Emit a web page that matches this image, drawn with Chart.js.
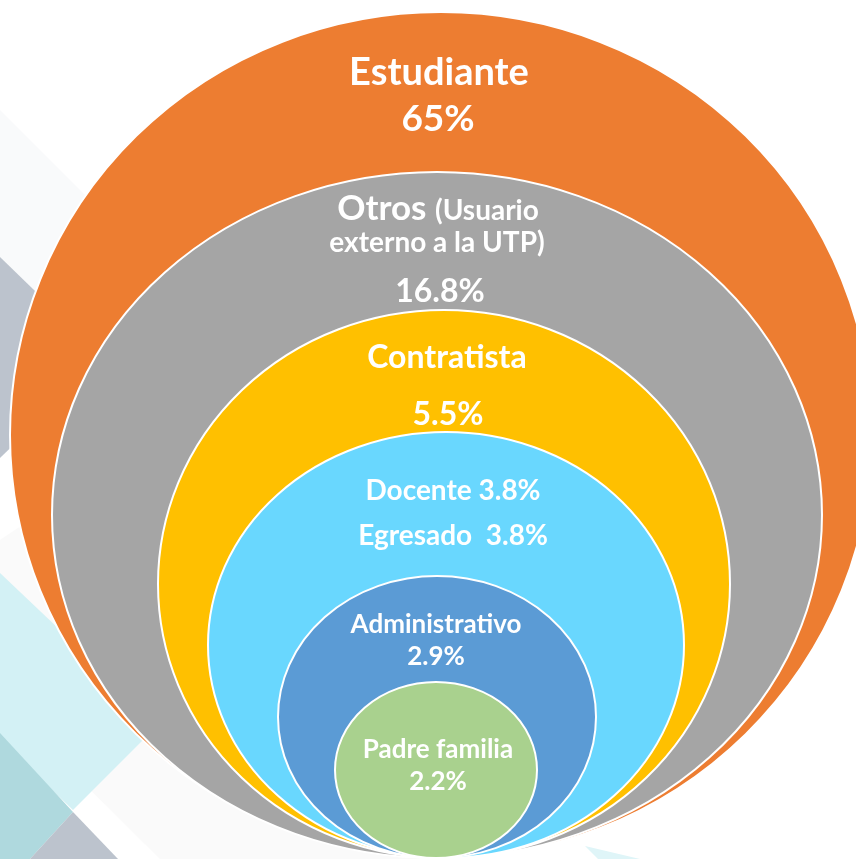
<!DOCTYPE html>
<html>
<head>
<meta charset="utf-8">
<script src="https://cdn.jsdelivr.net/npm/chart.js@4.4.1/dist/chart.umd.min.js"></script>
<style>
  html, body { margin: 0; padding: 0; background: #fff; overflow: hidden; }
</style>
</head>
<body>
<canvas id="chart" width="856" height="859"></canvas>
<script>
// data
const categories = ['Estudiante', 'Otros', 'Contratista', 'Docente', 'Egresado', 'Administrativo', 'Padre familia'];
const shares = [65, 16.8, 5.5, 3.8, 3.8, 2.9, 2.2];
const otrosNote = ['(Usuario', 'externo a la UTP)'];

// one ring per level, Docente and Egresado share the 4th one
const ringColors = ['#ED7D31', '#A5A5A5', '#FFC000', '#69D7FE', '#5B9BD5', '#A9D18E'];
const ringCenterX = [441, 437, 444, 446, 437, 436];
const ringRadiusX = [431, 385, 286, 238, 159, 101];
const ringRadiusY = [423, 343, 274, 213, 141, 88];

const pct = i => shares[i] + '%';

// text lines: ring, dx from ring centre, baseline below ring top, pieces [text, px size]
const labelLines = [
  { ring: 0, dx: -2, dy: 73,  parts: [[categories[0], 38]] },
  { ring: 0, dx: -3, dy: 119, parts: [[pct(0), 37]] },
  { ring: 1, dx: 1,  dy: 48,  parts: [[categories[1] + ' ', 35], [otrosNote[0], 28]] },
  { ring: 1, dx: 0,  dy: 80,  parts: [[otrosNote[1], 28]] },
  { ring: 1, dx: 3,  dy: 130, parts: [[pct(1), 32]] },
  { ring: 2, dx: 3,  dy: 58,  parts: [[categories[2], 32]] },
  { ring: 2, dx: 4,  dy: 115, parts: [[pct(2), 32]] },
  { ring: 3, dx: 7,  dy: 68,  parts: [[categories[3] + ' ' + pct(3), 28]] },
  { ring: 3, dx: 7,  dy: 113, parts: [[categories[4] + '  ' + pct(4), 28]] },
  { ring: 4, dx: -1, dy: 57,  parts: [[categories[5], 26]] },
  { ring: 4, dx: -1, dy: 89,  parts: [[pct(5), 26]] },
  { ring: 5, dx: 2,  dy: 76,  parts: [[categories[6], 26]] },
  { ring: 5, dx: 2,  dy: 108, parts: [[pct(6), 26]] }
];

const FONT = 'Lato, "Open Sans", sans-serif';

const backdrop = {
  id: 'backdrop',
  beforeDraw(chart) {
    const ctx = chart.ctx;
    ctx.save();
    ctx.fillStyle = '#ffffff';
    ctx.fillRect(0, 0, chart.width, chart.height);
    const poly = (color, pts) => {
      ctx.fillStyle = color;
      ctx.beginPath();
      pts.forEach((p, i) => i ? ctx.lineTo(p[0], p[1]) : ctx.moveTo(p[0], p[1]));
      ctx.closePath();
      ctx.fill();
    };
    poly('#f9fafb', [[0, 110], [130, 240], [0, 370]]);
    poly('#fafafa', [[0, 700], [160, 859], [420, 859], [60, 500], [0, 540]]);
    poly('#bcc3cd', [[0, 257], [70, 325], [70, 390], [0, 458]]);
    poly('#d3f1f5', [[0, 573], [159, 724], [73, 810], [0, 740]]);
    poly('#afd9de', [[0, 733], [73, 812], [30, 859], [0, 859]]);
    poly('#bcc3cd', [[73, 812], [118, 859], [30, 859]]);
    poly('#dff5f8', [[585, 846], [640, 859], [598, 859]]);
    ctx.restore();
  }
};

const ellipses = {
  id: 'ellipses',
  beforeDatasetsDraw(chart) {
    const { ctx, scales: { x, y } } = chart;
    chart.data.datasets.forEach(ds => {
      const p = ds.data[0];
      const cx = x.getPixelForValue(p.x);
      const cy = y.getPixelForValue(p.y);
      const rx = Math.abs(x.getPixelForValue(p.x + p.rx) - cx);
      const ry = Math.abs(y.getPixelForValue(p.y + p.ry) - cy);
      ctx.save();
      ctx.beginPath();
      ctx.ellipse(cx, cy, rx, ry, 0, 0, Math.PI * 2);
      ctx.fillStyle = ds.backgroundColor;
      ctx.fill();
      ctx.lineWidth = 2;
      ctx.strokeStyle = '#ffffff';
      ctx.stroke();
      ctx.restore();
    });
  },
  afterDatasetsDraw(chart) {
    const { ctx, scales: { x, y } } = chart;
    ctx.save();
    ctx.fillStyle = '#ffffff';
    ctx.textBaseline = 'alphabetic';
    ctx.textAlign = 'left';
    labelLines.forEach(line => {
      const p = chart.data.datasets[line.ring].data[0];
      const cx = x.getPixelForValue(p.x) + line.dx;
      const top = y.getPixelForValue(p.y + p.ry);
      const widths = line.parts.map(([t, s]) => {
        ctx.font = 'bold ' + s + 'px ' + FONT;
        return ctx.measureText(t).width;
      });
      let left = cx - widths.reduce((a, b) => a + b, 0) / 2;
      line.parts.forEach(([t, s], i) => {
        ctx.font = 'bold ' + s + 'px ' + FONT;
        ctx.fillText(t, left, top + line.dy);
        left += widths[i];
      });
    });
    ctx.restore();
  }
};

const draw = () => {
  new Chart(document.getElementById('chart'), {
    type: 'scatter',
    data: {
      datasets: ringColors.map((color, i) => ({
        label: 'ring' + i,
        data: [{ x: ringCenterX[i], y: ringRadiusY[i], rx: ringRadiusX[i], ry: ringRadiusY[i] }],
        backgroundColor: color,
        pointRadius: 0
      }))
    },
    options: {
      responsive: false,
      animation: false,
      layout: { padding: 0 },
      plugins: { legend: { display: false }, tooltip: { enabled: false } },
      scales: {
        x: { type: 'linear', min: 0, max: 856, display: false },
        y: { type: 'linear', min: -1, max: 858, display: false }
      }
    },
    plugins: [backdrop, ellipses]
  });
};

document.fonts.load('bold 30px Lato').then(draw, draw);
</script>
</body>
</html>
